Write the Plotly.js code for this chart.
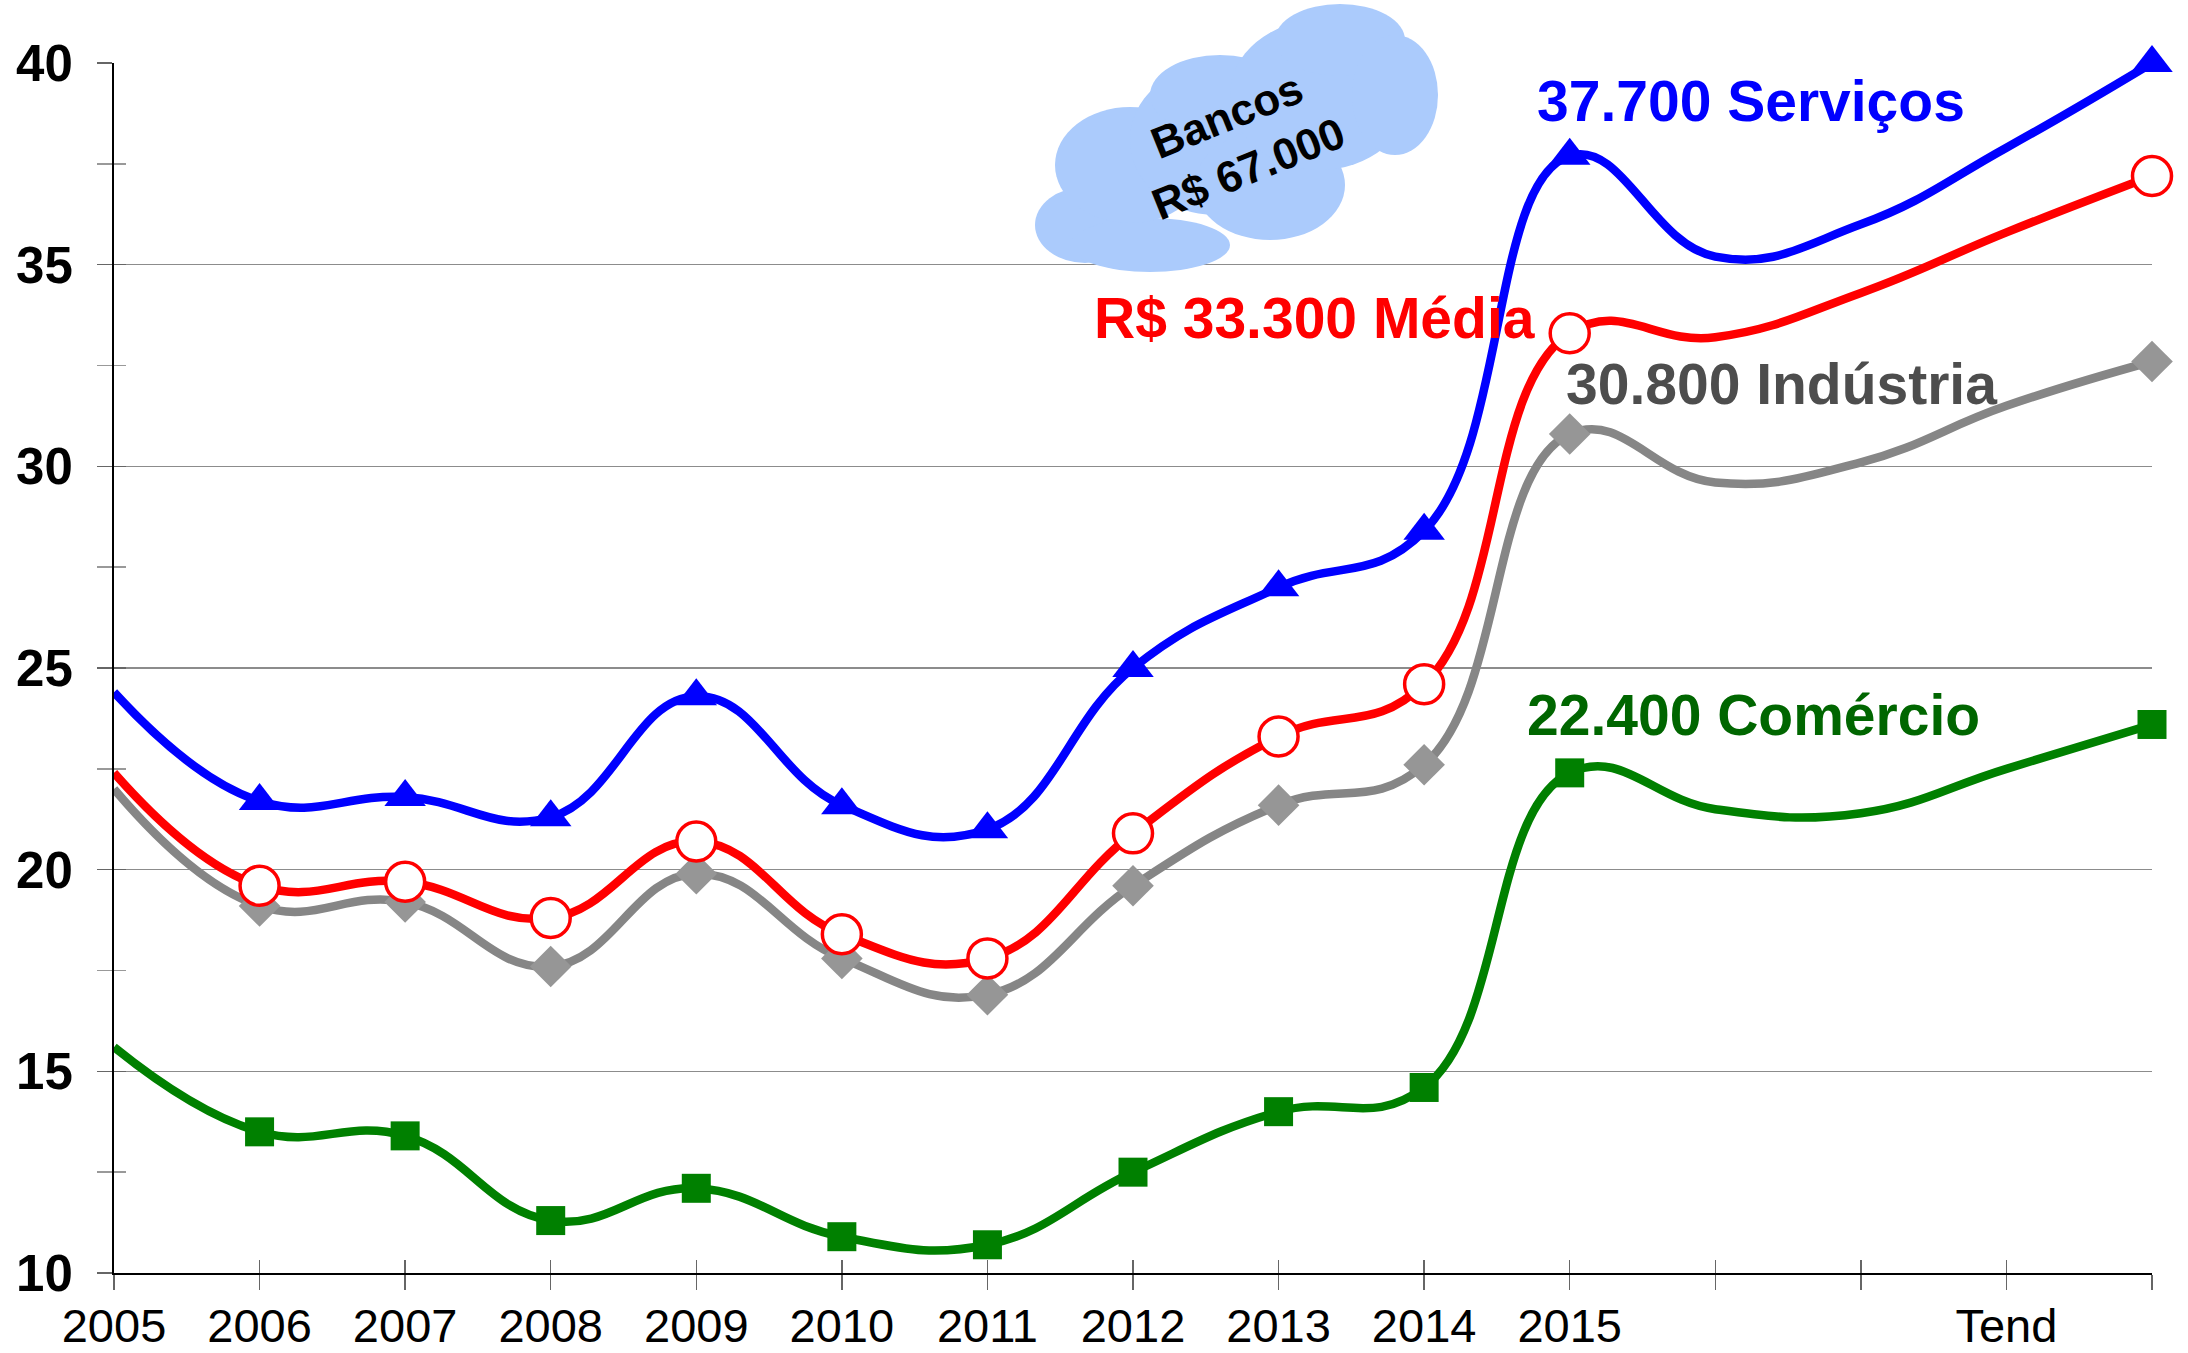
<!DOCTYPE html>
<html>
<head>
<meta charset="utf-8">
<script src="https://cdn.plot.ly/plotly-3.0.1.min.js"></script>
<style>html,body{margin:0;padding:0;background:#fff;}#chart{width:2188px;height:1353px;}</style>
</head>
<body>
<div id="chart"></div>
<script>
// ---- data ----
const categories = ['2005','2006','2007','2008','2009','2010','2011','2012','2013','2014','2015','','','Tend',''];
const servicos  = [24.4, 21.7, 21.8, 21.3, 24.3, 21.6, 21.0, 25.0, 27.0, 28.4, 37.7, 35.2, 36.0, 37.9, 40.0];
const media     = [22.4, 19.6, 19.7, 18.8, 20.7, 18.4, 17.8, 20.9, 23.3, 24.6, 33.3, 33.2, 34.3, 35.8, 37.2];
const industria = [22.0, 19.1, 19.2, 17.6, 19.9, 17.8, 16.9, 19.6, 21.6, 22.6, 30.8, 29.6, 30.1, 31.5, 32.6];
const comercio  = [15.6, 13.5, 13.4, 11.3, 12.1, 10.9, 10.7, 12.5, 14.0, 14.6, 22.4, 21.5, 21.4, 22.5, 23.6];
const markedIdx = [1,2,3,4,5,6,7,8,9,10,14];   // points drawn with a marker
const yTicks = [10, 15, 20, 25, 30, 35, 40];

const xIdx = categories.map((_, i) => i);

// ---- plot geometry (pixels) ----
const W = 2188, H = 1353;
const L = 114, R = 36, T = 63, B = 80;
const PW = W - L - R, PH = H - T - B;
const px2paperX = p => (p - L) / PW;
const px2paperY = p => (H - B - p) / PH;

const FONT = 'Liberation Sans, Arial, sans-serif';

function series(vals, color, lineColor, symbol, size, markerOpts) {
  const line = {
    x: xIdx, y: vals, type: 'scatter', mode: 'lines',
    line: {color: lineColor, width: 8.5, shape: 'spline', smoothing: 1.25},
    hoverinfo: 'skip', cliponaxis: false, showlegend: false
  };
  const mk = {
    x: markedIdx.map(i => xIdx[i]), y: markedIdx.map(i => vals[i]),
    type: 'scatter', mode: 'markers',
    marker: Object.assign({symbol: symbol, size: size, color: color}, markerOpts || {}),
    cliponaxis: false, showlegend: false
  };
  return [line, mk];
}

const traces = [
  ...series(comercio, '#008000', '#008000', 'square', 29),
  ...series(industria, '#969696', '#868686', 'diamond', 32),
  ...series(media, '#ffffff', '#ff0000', 'circle', 39, {line: {color: '#ff0000', width: 3.5}}),
  ...series(servicos, '#0000ff', '#0000ff', 'triangle-up', 36),
  {x: [null], y: [null], xaxis: 'x2', yaxis: 'y2', type: 'scatter', mode: 'markers', showlegend: false, hoverinfo: 'skip'}
];

// cloud built from ellipses (pixel centres / radii)
const cloudParts = [
  [1085, 225, 50, 38],
  [1150, 245, 80, 27],
  [1130, 165, 75, 58],
  [1215, 140, 85, 75],
  [1220, 95, 70, 40],
  [1270, 185, 75, 55],
  [1320, 95, 90, 75],
  [1340, 40, 65, 36],
  [1395, 95, 43, 60]
];
const cloudColor = '#abcbfc';
const shapes = cloudParts.map(([cx, cy, rx, ry]) => ({
  type: 'circle', xref: 'paper', yref: 'paper',
  xsizemode: 'pixel', ysizemode: 'pixel',
  xanchor: px2paperX(cx), yanchor: px2paperY(cy),
  x0: -rx, x1: rx, y0: -ry, y1: ry,
  fillcolor: cloudColor, line: {width: 0}, layer: 'above'
}));

const labelFont = (c) => ({family: FONT, size: 57, color: c, weight: 'bold'});
const annotations = [
  {x: 9.76, y: 39.07, text: '<b>37.700 Serviços</b>', font: labelFont('#0000ff')},
  {x: 6.72, y: 33.67, text: '<b>R$ 33.300 Média</b>', font: labelFont('#ff0000')},
  {x: 9.96, y: 32.04, text: '<b>30.800 Indústria</b>', font: labelFont('#4d4d4d')},
  {x: 9.69, y: 23.84, text: '<b>22.400 Comércio</b>', font: labelFont('#006600')}
].map(a => Object.assign({xref: 'x', yref: 'y', xanchor: 'left', yanchor: 'middle', showarrow: false}, a));

annotations.push({
  xref: 'paper', yref: 'paper', x: px2paperX(1237), y: px2paperY(142),
  xanchor: 'center', yanchor: 'middle', showarrow: false,
  text: '<b>Bancos</b><br><b>R$ 67.000</b>', textangle: -22,
  font: {family: FONT, size: 44, color: '#000000'}
});

const layout = {
  width: W, height: H,
  margin: {l: L, r: R, t: T, b: B},
  paper_bgcolor: '#ffffff', plot_bgcolor: '#ffffff',
  showlegend: false,
  font: {family: FONT, color: '#000'},
  xaxis: {
    range: [0, categories.length - 1], tickvals: xIdx, ticktext: categories,
    showgrid: false, zeroline: false,
    showline: true, linecolor: '#000000', linewidth: 2,
    ticks: 'outside', ticklen: 15, tickwidth: 1.5, tickcolor: '#666666',
    tickfont: {family: FONT, size: 47, color: '#000'}, ticklabelstandoff: -4
  },
  yaxis: {
    range: [10, 40], tickvals: yTicks,
    showgrid: true, gridcolor: '#8c8c8c', gridwidth: 1.5, zeroline: false,
    showline: true, linecolor: '#000000', linewidth: 2,
    ticks: 'outside', ticklen: 15, tickwidth: 1.5, tickcolor: '#666666',
    minor: {dtick: 2.5, tick0: 12.5, ticks: 'outside', ticklen: 15, tickwidth: 1.5, tickcolor: '#999999', showgrid: false},
    tickfont: {family: FONT, size: 51, color: '#000', weight: 'bold'}, ticklabelstandoff: 14
  },
  xaxis2: {
    overlaying: 'x', anchor: 'y2', range: [0, categories.length - 1], tickvals: xIdx,
    showticklabels: false, showgrid: false, zeroline: false, showline: false,
    ticks: 'inside', ticklen: 13, tickwidth: 1.5, tickcolor: '#666666'
  },
  yaxis2: {
    overlaying: 'y', anchor: 'x2', range: [10, 40], tickvals: yTicks,
    showticklabels: false, showgrid: false, zeroline: false, showline: false,
    ticks: 'inside', ticklen: 12, tickwidth: 1.5, tickcolor: '#666666',
    minor: {dtick: 2.5, tick0: 12.5, ticks: 'inside', ticklen: 12, tickwidth: 1.5, tickcolor: '#999999', showgrid: false}
  },
  shapes: shapes,
  annotations: annotations
};

Plotly.newPlot('chart', traces, layout, {staticPlot: true, displayModeBar: false});
</script>
</body>
</html>
